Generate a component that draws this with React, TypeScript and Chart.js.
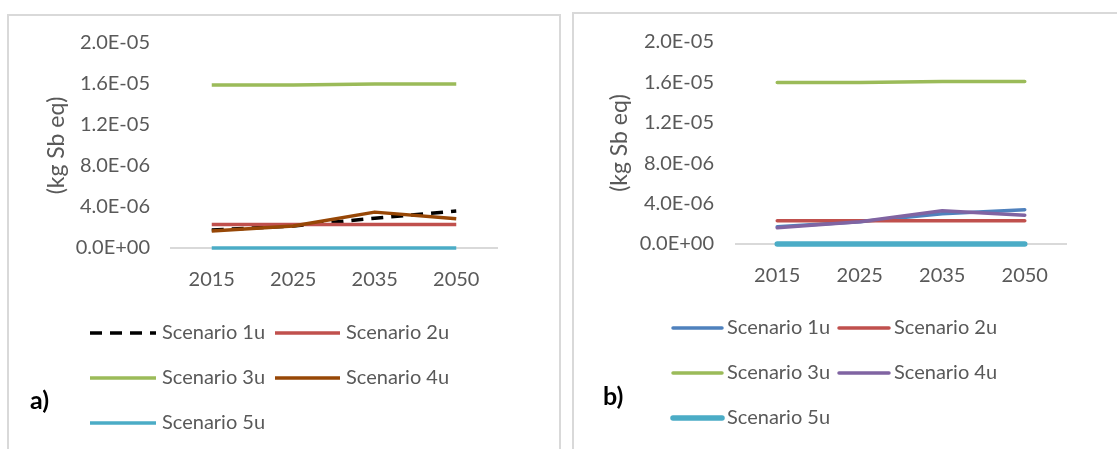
import React, { useEffect, useRef } from "react";
import { Chart, registerables } from "chart.js";

Chart.register(...registerables);

// ---------- data ----------
const years = ["2015", "2025", "2035", "2050"];
const seriesNames = ["Scenario 1u", "Scenario 2u", "Scenario 3u", "Scenario 4u", "Scenario 5u"];
const yTickValues = [0, 4e-6, 8e-6, 1.2e-5, 1.6e-5, 2e-5];

const aScenario1 = [1.75e-6, 2.15e-6, 2.9e-6, 3.6e-6];
const aScenario2 = [2.3e-6, 2.3e-6, 2.3e-6, 2.3e-6];
const aScenario3 = [1.59e-5, 1.59e-5, 1.6e-5, 1.6e-5];
const aScenario4 = [1.65e-6, 2.15e-6, 3.5e-6, 2.85e-6];
const aScenario5 = [0, 0, 0, 0];

const bScenario1 = [1.7e-6, 2.2e-6, 3.0e-6, 3.4e-6];
const bScenario2 = [2.3e-6, 2.3e-6, 2.3e-6, 2.3e-6];
const bScenario3 = [1.6e-5, 1.6e-5, 1.61e-5, 1.61e-5];
const bScenario4 = [1.6e-6, 2.2e-6, 3.3e-6, 2.85e-6];
const bScenario5 = [0, 0, 0, 0];

const FONT = "Lato, 'Open Sans', sans-serif";
const GREY = "#595959";

function fmtSci(v: number): string {
  if (v === 0) return "0.0E+00";
  const e = Math.floor(Math.log10(Math.abs(v)) + 1e-9);
  const m = v / Math.pow(10, e);
  return m.toFixed(1) + "E" + (e < 0 ? "-" : "+") + String(Math.abs(e)).padStart(2, "0");
}

const customLegend = {
  id: "customLegend",
  afterDraw(chart: any, _args: any, opts: any) {
    const ctx = chart.ctx;
    const items = opts.items || [];
    ctx.save();
    items.forEach((it: any, i: number) => {
      const ds = chart.data.datasets[i];
      ctx.beginPath();
      ctx.strokeStyle = ds.borderColor;
      ctx.lineWidth = it.lw;
      ctx.lineCap = it.cap || "butt";
      ctx.setLineDash(ds.borderDash || []);
      ctx.moveTo(it.x1, it.y);
      ctx.lineTo(it.x2, it.y);
      ctx.stroke();
      ctx.setLineDash([]);
      ctx.fillStyle = GREY;
      ctx.font = `20px ${FONT}`;
      ctx.textBaseline = "middle";
      ctx.textAlign = "left";
      ctx.fillText(ds.label, it.tx, it.y);
    });
    ctx.restore();
  },
};

type PanelProps = {
  left: number;
  width: number;
  series: number[][];
  colors: string[];
  widths: number[];
  dashes: number[][];
  cap: "butt" | "round";
  layout: { left: number; top: number; right: number; yWidth: number; xHeight: number; yPad: number };
  legendItems: any[];
};

function Panel(p: PanelProps) {
  const ref = useRef<HTMLCanvasElement | null>(null);
  useEffect(() => {
    if (!ref.current) return;
    const n = p.series.length;
    const chart = new Chart(ref.current, {
      type: "line",
      data: {
        labels: years,
        datasets: p.series.map((s, i) => ({
          label: seriesNames[i],
          data: s,
          borderColor: p.colors[i],
          backgroundColor: p.colors[i],
          borderWidth: p.widths[i],
          borderDash: p.dashes[i],
          borderCapStyle: p.cap,
          borderJoinStyle: "round",
          pointRadius: 0,
          tension: 0,
          clip: false,
          order: n - i,
        })),
      },
      options: {
        animation: false,
        responsive: false,
        maintainAspectRatio: false,
        layout: { padding: { left: p.layout.left, top: p.layout.top, right: p.layout.right, bottom: 0 } },
        plugins: {
          legend: { display: false },
          tooltip: { enabled: false },
          customLegend: { items: p.legendItems },
        } as any,
        scales: {
          x: {
            type: "category",
            offset: true,
            grid: { display: false, drawTicks: false },
            border: { display: true, color: "#D9D9D9", width: 2 },
            ticks: { color: GREY, font: { family: FONT, size: 20 }, padding: 20, maxRotation: 0 },
            afterFit: (s: any) => {
              s.height = p.layout.xHeight;
            },
          },
          y: {
            min: 0,
            max: 2e-5,
            grid: { display: false, drawTicks: false },
            border: { display: false },
            ticks: {
              color: GREY,
              font: { family: FONT, size: 20 },
              padding: p.layout.yPad,
              callback: (v: any) => fmtSci(Number(v)),
            },
            afterBuildTicks: (s: any) => {
              s.ticks = yTickValues.map((v) => ({ value: v }));
            },
            afterFit: (s: any) => {
              s.width = p.layout.yWidth;
            },
            title: {
              display: true,
              text: "(kg Sb eq)",
              color: GREY,
              font: { family: FONT, size: 23 },
              padding: 0,
            },
          },
        },
      },
      plugins: [customLegend],
    } as any);
    return () => chart.destroy();
  }, []);
  return (
    <canvas
      ref={ref}
      width={p.width}
      height={449}
      style={{ position: "absolute", left: p.left, top: 0, width: p.width, height: 449 }}
    />
  );
}

export default function App() {
  return (
    <div style={{ position: "absolute", left: 0, top: 0, width: 1117, height: 449, background: "#fff", overflow: "hidden" }}>
      <div style={{ position: "absolute", left: 7, top: 14, width: 550, height: 460, border: "2px solid #D9D9D9" }} />
      <div style={{ position: "absolute", left: 572, top: 12, width: 560, height: 460, border: "2px solid #D9D9D9" }} />
      <Panel
        left={0}
        width={560}
        series={[aScenario1, aScenario2, aScenario3, aScenario4, aScenario5]}
        colors={["#000000", "#C0504D", "#9BBB59", "#974706", "#4BACC6"]}
        widths={[3.5, 3.5, 3.5, 3.5, 3.5]}
        dashes={[[12, 8], [], [], [], []]}
        cap="butt"
        layout={{ left: 43, top: 43, right: 63, yWidth: 128, xHeight: 201, yPad: 21 }}
        legendItems={[
          { x1: 90, x2: 156, tx: 162, y: 333, lw: 3.5 },
          { x1: 275, x2: 340, tx: 346, y: 333, lw: 3.5 },
          { x1: 90, x2: 156, tx: 162, y: 378, lw: 3.5 },
          { x1: 275, x2: 340, tx: 346, y: 378, lw: 3.5 },
          { x1: 90, x2: 156, tx: 162, y: 423, lw: 3.5 },
        ]}
      />
      <Panel
        left={560}
        width={557}
        series={[bScenario1, bScenario2, bScenario3, bScenario4, bScenario5]}
        colors={["#4F81BD", "#C0504D", "#9BBB59", "#8064A2", "#4BACC6"]}
        widths={[3.5, 3.5, 3.5, 3.5, 5.5]}
        dashes={[[], [], [], [], []]}
        cap="round"
        layout={{ left: 46, top: 42, right: 51, yWidth: 130, xHeight: 205, yPad: 22 }}
        legendItems={[
          { x1: 113, x2: 162, tx: 167, y: 328, lw: 3.5, cap: "round" },
          { x1: 279, x2: 329, tx: 334, y: 328, lw: 3.5, cap: "round" },
          { x1: 113, x2: 162, tx: 167, y: 373, lw: 3.5, cap: "round" },
          { x1: 279, x2: 329, tx: 334, y: 373, lw: 3.5, cap: "round" },
          { x1: 113, x2: 162, tx: 167, y: 418, lw: 5.5, cap: "round" },
        ]}
      />
      <div style={{ position: "absolute", left: 30, top: 384, font: `bold 25px ${FONT}`, color: "#000", lineHeight: "30px" }}>a)</div>
      <div style={{ position: "absolute", left: 603, top: 380, font: `bold 25px ${FONT}`, color: "#000", lineHeight: "30px" }}>b)</div>
    </div>
  );
}
